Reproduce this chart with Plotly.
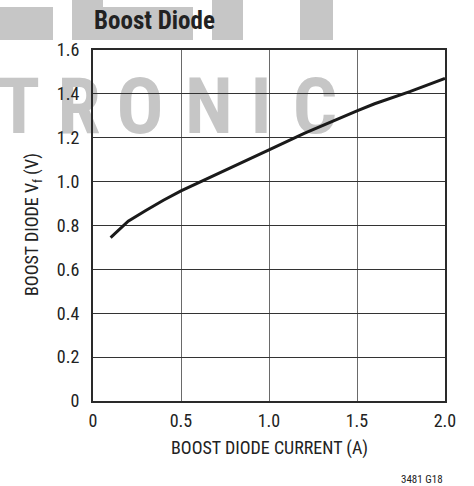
import plotly.graph_objects as go

# ---- data ----
current_a = [0.1, 0.2, 0.3, 0.4, 0.5, 0.6, 0.7, 0.8, 0.9, 1.0, 1.2, 1.4, 1.5, 1.6, 1.8, 2.0]
vf_v = [0.745, 0.82, 0.868, 0.915, 0.958, 0.995, 1.033, 1.07, 1.105, 1.145, 1.22, 1.29, 1.323, 1.355, 1.41, 1.47]
x_tickvals = [0, 0.5, 1.0, 1.5, 2.0]
x_ticktext = ["0", "0.5", "1.0", "1.5", "2.0"]
y_tickvals = [0, 0.2, 0.4, 0.6, 0.8, 1.0, 1.2, 1.4, 1.6]
y_ticktext = ["0", "0.2", "0.4", "0.6", "0.8", "1.0", "1.2", "1.4", "1.6"]
watermark_letters = ["T", "R", "O", "N", "I", "C"]

# ---- layout geometry (pixels) ----
W, H = 474, 486
L, R, T, B = 93, 445, 50, 401
NARROW = "Roboto Condensed, Liberation Sans Narrow, Arial Narrow, DejaVu Sans Condensed, sans-serif"
TXT = "#222222"
WM = "#c6c6c6"

def pxx(px):
    return (px - L) / (R - L)

def pxy(py):
    return (B - py) / (B - T)

fig = go.Figure()
fig.add_trace(go.Scatter(
    x=current_a, y=vf_v, mode="lines",
    line=dict(color="#1a1a1a", width=3),
    hoverinfo="skip", showlegend=False,
))

shapes = []
for (x0, y0, x1, y1) in [(0, 7, 53, 40), (72, 0, 103, 40), (103, 7, 193, 40),
                         (212, 0, 243, 40), (300, 0, 333, 40)]:
    shapes.append(dict(type="rect", xref="paper", yref="paper",
                       x0=pxx(x0), x1=pxx(x1), y0=pxy(y1), y1=pxy(y0),
                       fillcolor=WM, line=dict(width=0), layer="below"))
centers = [19, 79, 140, 209, 261, 315]
for ch, cx in zip(watermark_letters, centers):
    shapes.append(dict(type="rect", xref="paper", yref="paper",
                       x0=pxx(cx - 30), x1=pxx(cx + 30), y0=pxy(135), y1=pxy(65),
                       fillcolor="rgba(0,0,0,0)", line=dict(width=0), layer="below",
                       label=dict(text=ch, textposition="middle center",
                                  font=dict(family=NARROW, size=78, color=WM, weight="bold"))))

annotations = [
    dict(text="<b>Boost Diode</b>", xref="paper", yref="paper", x=pxx(92), y=pxy(21),
         xanchor="left", yanchor="middle", showarrow=False,
         font=dict(family=NARROW, size=25, color=TXT)),
    dict(text="BOOST DIODE CURRENT (A)", xref="paper", yref="paper", x=pxx(269), y=pxy(448),
         xanchor="center", yanchor="middle", showarrow=False,
         font=dict(family=NARROW, size=18, color=TXT)),
    dict(text="BOOST DIODE V<sub>f</sub> (V)", xref="paper", yref="paper", x=pxx(33), y=pxy(225),
         xanchor="center", yanchor="middle", showarrow=False, textangle=-90,
         font=dict(family=NARROW, size=18, color=TXT)),
    dict(text="3481 G18", xref="paper", yref="paper", x=pxx(445), y=pxy(479),
         xanchor="right", yanchor="middle", showarrow=False,
         font=dict(family=NARROW, size=11, color=TXT)),
]

fig.update_layout(
    width=W, height=H,
    margin=dict(l=L, r=W - R, t=T, b=H - B, pad=0),
    paper_bgcolor="white", plot_bgcolor="rgba(0,0,0,0)",
    shapes=shapes, annotations=annotations, showlegend=False,
    xaxis=dict(range=[0, 2], tickvals=x_tickvals, ticktext=x_ticktext,
               showgrid=True, gridcolor="#6a6a6a", gridwidth=1,
               showline=True, mirror=True, linecolor="#2a2a2a", linewidth=2,
               ticks="", ticklabelstandoff=2, zeroline=False,
               tickfont=dict(family=NARROW, size=18, color=TXT)),
    yaxis=dict(range=[0, 1.6], tickvals=y_tickvals, ticktext=y_ticktext,
               showgrid=True, gridcolor="#333333", gridwidth=1,
               showline=True, mirror=True, linecolor="#2a2a2a", linewidth=2,
               ticks="", ticklabelstandoff=8, zeroline=False,
               tickfont=dict(family=NARROW, size=18, color=TXT)),
)

fig.write_html("out.html", config={"displayModeBar": False},
               post_script="document.body.style.margin='0';")
